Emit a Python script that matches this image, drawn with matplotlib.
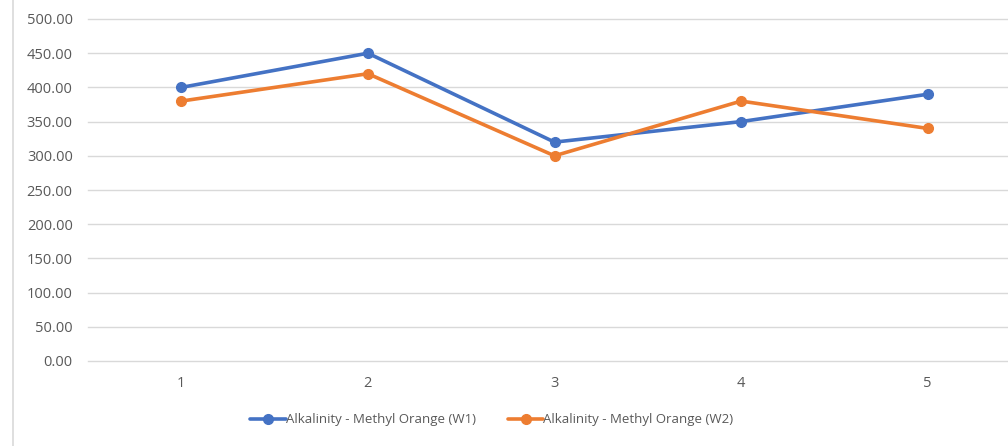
import matplotlib
matplotlib.use("Agg")
import matplotlib.pyplot as plt
from matplotlib.lines import Line2D

categories = ["1", "2", "3", "4", "5"]
w1 = [400, 450, 320, 350, 390]
w2 = [380, 420, 300, 380, 340]
series_names = ["Alkalinity - Methyl Orange (W1)", "Alkalinity - Methyl Orange (W2)"]
yticks = [0, 50, 100, 150, 200, 250, 300, 350, 400, 450, 500]

plt.rcParams['font.family'] = ['Open Sans', 'DejaVu Sans']

W, H = 1008, 446
fig = plt.figure(figsize=(W / 100, H / 100), dpi=100)
left, right, top, bottom = 88, 1021, 19, 361
ax = fig.add_axes([left / W, 1 - bottom / H, (right - left) / W, (bottom - top) / H])

x = list(range(len(categories)))
blue = "#4472C4"
orange = "#ED7D31"
ax.plot(x, w1, color=blue, lw=2.6, marker="o", ms=7, label=series_names[0], solid_capstyle="round", zorder=3)
ax.plot(x, w2, color=orange, lw=2.6, marker="o", ms=7, label=series_names[1], solid_capstyle="round", zorder=3)

ax.set_xlim(-0.5, len(categories) - 0.5)
ax.set_ylim(0, 500)
ax.set_yticks(yticks)
ax.set_yticklabels([f"{v:.2f}" for v in yticks])
ax.set_xticks(x)
ax.set_xticklabels(categories)
ax.grid(axis="y", color="#D9D9D9", lw=1)
for gl in ax.get_ygridlines():
    gl.set_clip_on(False)
ax.set_axisbelow(True)
for s in ax.spines.values():
    s.set_visible(False)
ax.tick_params(axis="both", length=0, colors="#595959", labelsize=10.5)
ax.tick_params(axis="y", pad=11)
ax.tick_params(axis="x", pad=11)

fig.add_artist(Line2D([13 / W, 13 / W], [0, 1], color="#D9D9D9", lw=1.2))

fig.legend(loc="center", bbox_to_anchor=(492 / W, 1 - 420 / H), ncol=2, frameon=False,
           fontsize=9.5, handlelength=2.7, handletextpad=0.0, columnspacing=2.4,
           labelcolor="#595959")

fig.savefig("out.png", dpi=100)
